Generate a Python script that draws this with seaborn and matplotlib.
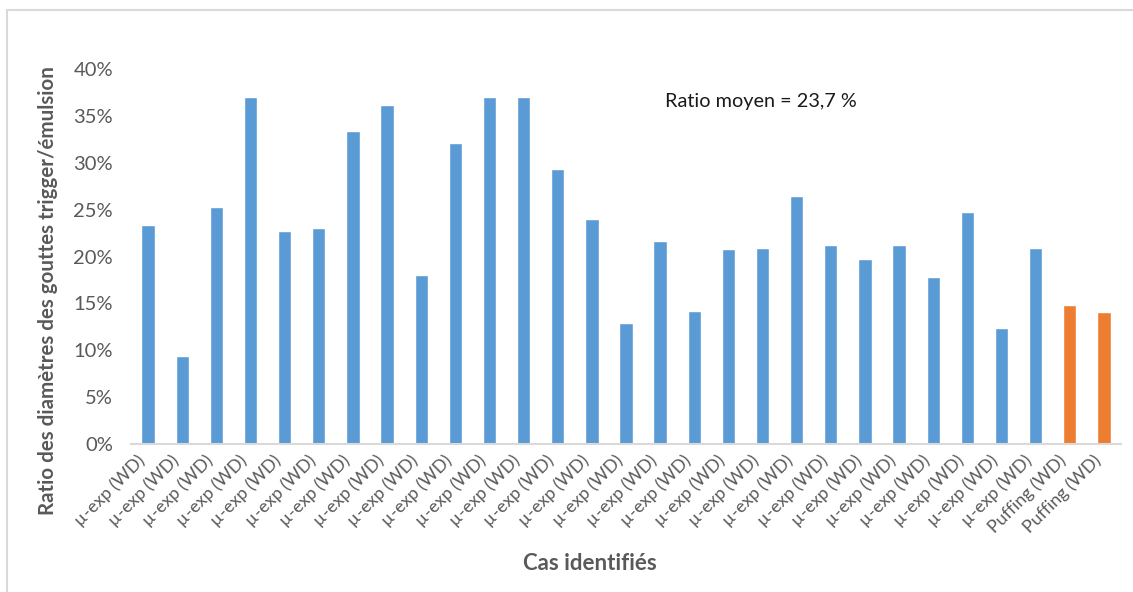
import matplotlib
matplotlib.use("Agg")
import matplotlib.pyplot as plt
import matplotlib.ticker as mticker
import seaborn as sns
import pandas as pd

# Ratio of trigger-droplet to emulsion-droplet diameters for each identified case (%)
case_labels = ["µ-exp (WD)"] * 27 + ["Puffing (WD)"] * 2
case_types = ["µ-exp"] * 27 + ["Puffing"] * 2
ratios = [23.4, 9.4, 25.3, 37.0, 22.7, 23.0, 33.4, 36.2, 18.0, 32.1,
          37.0, 37.0, 29.3, 24.0, 12.9, 21.7, 14.2, 20.8, 20.9, 26.5,
          21.2, 19.7, 21.2, 17.8, 24.7, 12.4, 20.9, 14.8, 14.1]
yticks = [0, 5, 10, 15, 20, 25, 30, 35, 40]
mean_text = "Ratio moyen = 23,7 %"

df = pd.DataFrame({
    "cas": [str(i) for i in range(len(ratios))],
    "type": case_types,
    "ratio": ratios,
})

sns.set_theme(style="white")
plt.rcParams["font.family"] = ["Lato", "DejaVu Sans"]

fig = plt.figure(figsize=(11.33, 5.92), dpi=100)
ax = fig.add_axes([131 / 1133, 1 - 444 / 592, (1121 - 131) / 1133, (444 - 69) / 592])

sns.barplot(data=df, x="cas", y="ratio", hue="type",
            palette={"µ-exp": "#5B9BD5", "Puffing": "#ED7D31"},
            dodge=False, width=0.39, legend=False, ax=ax, saturation=1)

ax.set_xlim(-0.5, len(ratios) - 0.5)
ax.set_ylim(0, 40)
ax.set_yticks(yticks)
ax.yaxis.set_major_formatter(mticker.FuncFormatter(lambda v, p: f"{v:.0f}%"))
ax.set_xticks(range(len(ratios)))
ax.set_xticklabels(case_labels, rotation=45, ha="right", va="top",
                   rotation_mode="default")

ax.tick_params(axis="y", length=0, colors="#595959", labelsize=14.5, pad=13)
ax.tick_params(axis="x", length=0, colors="#595959", labelsize=12.8, pad=6)

for side in ["top", "right", "left"]:
    ax.spines[side].set_visible(False)
ax.spines["bottom"].set_color("#D9D9D9")
ax.spines["bottom"].set_linewidth(1.5)

ax.set_xlabel("")
ax.set_ylabel("")
fig.text(48 / 1133, 1 - 291 / 592, "Ratio des diamètres des gouttes trigger/émulsion",
         rotation=90, ha="center", va="center", fontsize=14.8, fontweight="bold",
         color="#595959")
fig.text(590 / 1133, 1 - 563 / 592, "Cas identifiés", ha="center", va="center",
         fontsize=16, fontweight="bold", color="#595959")
fig.text(665 / 1133, 1 - 102 / 592, mean_text, ha="left", va="center",
         fontsize=14.3, color="#1A1A1A")

# Outer chart frame (left and top edges)
fig.add_artist(plt.Line2D([7 / 1133, 7 / 1133], [0, 1 - 10 / 592],
                          color="#D9D9D9", linewidth=1.5, transform=fig.transFigure))
fig.add_artist(plt.Line2D([7 / 1133, 1], [1 - 10 / 592, 1 - 10 / 592],
                          color="#D9D9D9", linewidth=1.5, transform=fig.transFigure))

fig.savefig("out.png", dpi=100, facecolor="white")
